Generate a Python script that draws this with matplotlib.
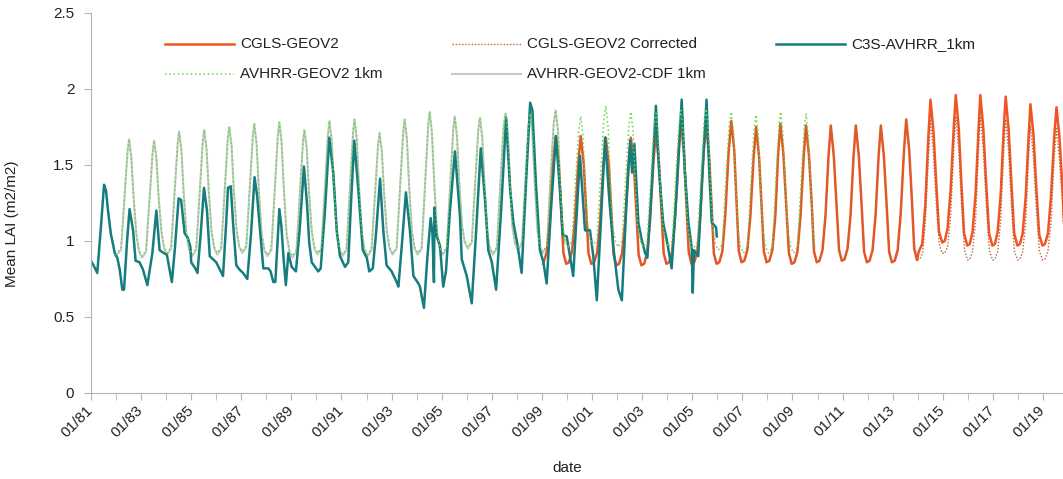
import numpy as np
import pandas as pd
import matplotlib
matplotlib.use('Agg')
import matplotlib.pyplot as plt
import matplotlib.dates as mdates
from matplotlib.ticker import FixedLocator
from matplotlib.lines import Line2D

plt.rcParams['font.family'] = ['Liberation Sans', 'DejaVu Sans']
plt.rcParams['font.size'] = 11

# ---- data (decimal year, mean LAI) ----

# C3S-AVHRR_1km
teal_t = [1981.00, 1981.10, 1981.25, 1981.40, 1981.52, 1981.60, 1981.68, 1981.79, 1981.95,
          1982.05, 1982.15, 1982.25, 1982.32, 1982.44, 1982.54, 1982.68, 1982.78, 1982.94,
          1983.08, 1983.25, 1983.45, 1983.61, 1983.74, 1983.91,
          1984.03, 1984.23, 1984.35, 1984.50, 1984.60, 1984.74, 1984.87, 1984.97,
          1985.00, 1985.16, 1985.25, 1985.38, 1985.51, 1985.63, 1985.74,
          1986.00, 1986.18, 1986.27, 1986.39, 1986.47, 1986.58, 1986.67, 1986.80, 1986.94,
          1987.07, 1987.24, 1987.39, 1987.53, 1987.63, 1987.75, 1987.88,
          1988.08, 1988.17, 1988.28, 1988.36, 1988.45, 1988.52, 1988.60, 1988.70, 1988.78, 1988.88,
          1989.01, 1989.18, 1989.34, 1989.50, 1989.62, 1989.71, 1989.81, 1989.94,
          1990.07, 1990.17, 1990.34, 1990.51, 1990.67, 1990.81, 1990.94,
          1991.14, 1991.27, 1991.38, 1991.51, 1991.67, 1991.85,
          1992.01, 1992.11, 1992.25, 1992.38, 1992.54, 1992.67, 1992.80,
          1993.00, 1993.20, 1993.27, 1993.42, 1993.57, 1993.73, 1993.87,
          1994.07, 1994.13, 1994.29, 1994.43, 1994.56, 1994.63, 1994.69, 1994.71, 1994.80, 1994.93,
          1995.06, 1995.17, 1995.33, 1995.53, 1995.73, 1995.80,
          1996.00, 1996.20, 1996.37, 1996.56, 1996.73, 1996.86,
          1997.00, 1997.17, 1997.37, 1997.57, 1997.73, 1997.86,
          1998.02, 1998.19, 1998.37, 1998.53, 1998.62, 1998.76, 1998.92,
          1999.06, 1999.19, 1999.36, 1999.56, 1999.72, 1999.83, 1999.99,
          2000.12, 2000.25, 2000.38, 2000.52, 2000.72, 2000.92,
          2001.05, 2001.19, 2001.36, 2001.52, 2001.69, 2001.85,
          2002.05, 2002.19, 2002.36, 2002.52, 2002.60, 2002.69, 2002.85, 2002.98,
          2003.12, 2003.21, 2003.38, 2003.55, 2003.68, 2003.84, 2003.98,
          2004.18, 2004.39, 2004.58, 2004.71, 2004.85, 2004.98,
          2005.02, 2005.07, 2005.24, 2005.39, 2005.57, 2005.68, 2005.78, 2005.95, 2005.98]
teal_v = [0.87, 0.84, 0.79, 1.10, 1.37, 1.33, 1.20, 1.05, 0.92,
          0.89, 0.81, 0.68, 0.68, 1.00, 1.21, 1.07, 0.87, 0.86,
          0.81, 0.71, 0.92, 1.20, 0.94, 0.92,
          0.91, 0.73, 0.95, 1.28, 1.27, 1.05, 1.02, 0.96,
          0.86, 0.82, 0.79, 1.05, 1.35, 1.20, 0.90,
          0.86, 0.80, 0.77, 1.10, 1.35, 1.36, 1.12, 0.84, 0.81,
          0.79, 0.75, 1.05, 1.42, 1.30, 1.07, 0.82,
          0.82, 0.80, 0.73, 0.73, 1.00, 1.21, 1.10, 0.86, 0.71, 0.92,
          0.83, 0.80, 1.10, 1.49, 1.25, 0.99, 0.86, 0.83,
          0.80, 0.82, 1.20, 1.68, 1.45, 1.07, 0.90,
          0.83, 0.86, 1.25, 1.66, 1.34, 0.94,
          0.89, 0.80, 0.82, 1.05, 1.41, 1.07, 0.84,
          0.80, 0.73, 0.70, 1.00, 1.32, 1.07, 0.77,
          0.72, 0.70, 0.56, 0.90, 1.15, 1.05, 0.73, 1.22, 1.03, 0.97,
          0.70, 0.80, 1.20, 1.59, 1.16, 0.88,
          0.77, 0.59, 1.05, 1.61, 1.27, 0.94,
          0.86, 0.68, 1.20, 1.81, 1.34, 1.12,
          0.98, 0.79, 1.40, 1.91, 1.86, 1.38, 0.94,
          0.86, 0.72, 1.20, 1.69, 1.34, 1.04, 1.03,
          0.90, 0.77, 1.15, 1.56, 1.07, 1.07,
          0.90, 0.61, 1.15, 1.68, 1.27, 0.96,
          0.68, 0.61, 1.20, 1.66, 1.45, 1.64, 1.12, 1.01,
          0.92, 0.89, 1.35, 1.89, 1.45, 1.12, 1.01,
          0.82, 1.35, 1.93, 1.45, 1.12, 0.96,
          0.66, 0.94, 0.90, 1.40, 1.93, 1.45, 1.12, 1.09, 1.03]

# AVHRR-GEOV2 1km
green_t = [1981.98,
           1982.20, 1982.34, 1982.46, 1982.52, 1982.61, 1982.70, 1982.81, 1982.92,
           1983.04, 1983.20, 1983.34, 1983.46, 1983.52, 1983.61, 1983.70, 1983.81, 1983.92,
           1984.04, 1984.20, 1984.34, 1984.46, 1984.52, 1984.61, 1984.70, 1984.81, 1984.92,
           1985.04, 1985.20, 1985.34, 1985.46, 1985.52, 1985.61, 1985.70, 1985.81, 1985.92,
           1986.04, 1986.20, 1986.34, 1986.46, 1986.52, 1986.61, 1986.70, 1986.81, 1986.92,
           1987.04, 1987.20, 1987.34, 1987.46, 1987.52, 1987.61, 1987.70, 1987.81, 1987.92,
           1988.04, 1988.20, 1988.34, 1988.46, 1988.52, 1988.61, 1988.70, 1988.81, 1988.92,
           1989.04, 1989.20, 1989.34, 1989.46, 1989.52, 1989.61, 1989.70, 1989.81, 1989.92,
           1990.04, 1990.20, 1990.34, 1990.46, 1990.52, 1990.61, 1990.70, 1990.81, 1990.92,
           1991.04, 1991.20, 1991.34, 1991.46, 1991.52, 1991.61, 1991.70, 1991.81, 1991.92,
           1992.04, 1992.20, 1992.34, 1992.46, 1992.52, 1992.61, 1992.70, 1992.81, 1992.92,
           1993.04, 1993.20, 1993.34, 1993.46, 1993.52, 1993.61, 1993.70, 1993.81, 1993.92,
           1994.04, 1994.20, 1994.34, 1994.46, 1994.52, 1994.61, 1994.70, 1994.81, 1994.92,
           1995.04, 1995.20, 1995.34, 1995.46, 1995.52, 1995.61, 1995.70, 1995.81, 1995.92,
           1996.04, 1996.20, 1996.34, 1996.46, 1996.53, 1996.62, 1996.71, 1996.82, 1996.92,
           1997.04, 1997.20, 1997.34, 1997.47, 1997.55, 1997.64, 1997.72, 1997.82, 1997.93,
           1998.04, 1998.20, 1998.34, 1998.46, 1998.53, 1998.62, 1998.71, 1998.82, 1998.92,
           1999.04, 1999.20, 1999.34, 1999.47, 1999.55, 1999.64, 1999.72, 1999.82, 1999.93,
           2000.04, 2000.20, 2000.34, 2000.47, 2000.55, 2000.64, 2000.72, 2000.82, 2000.93,
           2001.04, 2001.20, 2001.34, 2001.47, 2001.55, 2001.64, 2001.72, 2001.82, 2001.93,
           2002.04, 2002.20, 2002.34, 2002.47, 2002.55, 2002.64, 2002.72, 2002.82, 2002.93,
           2003.04, 2003.20, 2003.34, 2003.47, 2003.55, 2003.64, 2003.72, 2003.82, 2003.93,
           2004.04, 2004.20, 2004.34, 2004.47, 2004.55, 2004.64, 2004.72, 2004.82, 2004.93,
           2005.04, 2005.20, 2005.34, 2005.47, 2005.55, 2005.64, 2005.72, 2005.82, 2005.93,
           2006.04, 2006.20, 2006.34, 2006.47, 2006.56, 2006.65, 2006.73, 2006.83, 2006.93,
           2007.04, 2007.20, 2007.34, 2007.47, 2007.55, 2007.64, 2007.72, 2007.82, 2007.93,
           2008.04, 2008.20, 2008.34, 2008.46, 2008.53, 2008.62, 2008.71, 2008.82, 2008.93,
           2009.04, 2009.20, 2009.34, 2009.47, 2009.54, 2009.63, 2009.72, 2009.82, 2009.90]
green_v = [0.91,
           0.95, 1.29, 1.59, 1.67, 1.55, 1.29, 1.05, 0.94,
           0.90, 0.94, 1.28, 1.58, 1.66, 1.55, 1.29, 1.07, 0.96,
           0.92, 0.96, 1.32, 1.64, 1.72, 1.60, 1.32, 1.06, 0.95,
           0.91, 0.95, 1.32, 1.65, 1.73, 1.61, 1.33, 1.07, 0.96,
           0.92, 0.96, 1.34, 1.67, 1.75, 1.63, 1.34, 1.08, 0.97,
           0.93, 0.97, 1.35, 1.69, 1.77, 1.64, 1.34, 1.06, 0.95,
           0.91, 0.95, 1.35, 1.69, 1.78, 1.65, 1.34, 1.05, 0.94,
           0.90, 0.94, 1.32, 1.65, 1.73, 1.61, 1.33, 1.07, 0.96,
           0.92, 0.96, 1.36, 1.70, 1.79, 1.66, 1.35, 1.06, 0.95,
           0.91, 0.95, 1.36, 1.71, 1.80, 1.67, 1.36, 1.06, 0.95,
           0.91, 0.95, 1.31, 1.63, 1.71, 1.59, 1.32, 1.07, 0.96,
           0.92, 0.96, 1.36, 1.71, 1.80, 1.67, 1.36, 1.07, 0.96,
           0.92, 0.96, 1.39, 1.76, 1.85, 1.71, 1.39, 1.07, 0.96,
           0.92, 0.96, 1.37, 1.73, 1.82, 1.69, 1.39, 1.11, 1.00,
           0.96, 1.00, 1.39, 1.73, 1.81, 1.68, 1.37, 1.07, 0.96,
           0.92, 0.96, 1.38, 1.75, 1.84, 1.71, 1.40, 1.10, 0.99,
           0.95, 0.99, 1.40, 1.75, 1.84, 1.71, 1.39, 1.08, 0.97,
           0.93, 0.97, 1.40, 1.77, 1.86, 1.73, 1.41, 1.11, 1.00,
           0.96, 1.00, 1.39, 1.73, 1.82, 1.69, 1.40, 1.12, 1.01,
           0.97, 1.01, 1.43, 1.80, 1.89, 1.75, 1.43, 1.11, 1.00,
           0.96, 1.00, 1.41, 1.76, 1.85, 1.72, 1.41, 1.11, 1.00,
           0.96, 1.00, 1.40, 1.75, 1.84, 1.71, 1.40, 1.11, 1.00,
           0.96, 1.00, 1.41, 1.77, 1.86, 1.72, 1.41, 1.10, 0.99,
           0.95, 0.99, 1.41, 1.78, 1.87, 1.73, 1.41, 1.09, 0.98,
           0.94, 0.98, 1.40, 1.76, 1.85, 1.71, 1.39, 1.07, 0.96,
           0.92, 0.96, 1.38, 1.74, 1.83, 1.69, 1.38, 1.07, 0.96,
           0.92, 0.96, 1.39, 1.76, 1.85, 1.71, 1.39, 1.07, 0.96,
           0.92, 0.96, 1.38, 1.75, 1.84, 1.70, 1.38, 1.07, 0.945]

# AVHRR-GEOV2-CDF 1km (same dates as the green series, ends late 1999)
gray_t = green_t[:green_t.index(1999.82) + 1] + [1999.90]
gray_v = [0.90,
          0.94, 1.29, 1.59, 1.67, 1.55, 1.29, 1.04, 0.93,
          0.89, 0.93, 1.28, 1.58, 1.66, 1.55, 1.29, 1.06, 0.95,
          0.91, 0.95, 1.32, 1.64, 1.72, 1.60, 1.32, 1.05, 0.94,
          0.90, 0.94, 1.32, 1.65, 1.73, 1.61, 1.33, 1.06, 0.95,
          0.91, 0.95, 1.34, 1.67, 1.75, 1.63, 1.34, 1.07, 0.96,
          0.92, 0.96, 1.35, 1.69, 1.77, 1.64, 1.34, 1.05, 0.94,
          0.90, 0.94, 1.35, 1.69, 1.78, 1.65, 1.34, 1.04, 0.93,
          0.89, 0.93, 1.32, 1.65, 1.73, 1.61, 1.33, 1.06, 0.95,
          0.91, 0.95, 1.36, 1.70, 1.79, 1.66, 1.35, 1.05, 0.94,
          0.90, 0.94, 1.36, 1.71, 1.80, 1.67, 1.36, 1.05, 0.94,
          0.90, 0.94, 1.31, 1.63, 1.71, 1.59, 1.32, 1.06, 0.95,
          0.91, 0.95, 1.36, 1.71, 1.80, 1.67, 1.36, 1.06, 0.95,
          0.91, 0.95, 1.39, 1.76, 1.85, 1.71, 1.39, 1.06, 0.95,
          0.91, 0.95, 1.37, 1.73, 1.82, 1.69, 1.39, 1.10, 0.99,
          0.95, 0.99, 1.39, 1.73, 1.81, 1.68, 1.37, 1.06, 0.95,
          0.91, 0.95, 1.38, 1.75, 1.84, 1.71, 1.40, 1.09, 0.98,
          0.94, 0.98, 1.40, 1.75, 1.84, 1.71, 1.39, 1.07, 0.96,
          0.92, 0.96, 1.40, 1.77, 1.86, 1.73, 1.41, 1.10,
          0.99]

# CGLS-GEOV2
cgls_t = [1999.05, 1999.20, 1999.32, 1999.45, 1999.55, 1999.67, 1999.77, 1999.86, 1999.97,
          2000.08, 2000.20, 2000.32, 2000.45, 2000.55, 2000.67, 2000.77, 2000.86, 2000.97,
          2001.08, 2001.20, 2001.32, 2001.45, 2001.55, 2001.67, 2001.77, 2001.86, 2001.97,
          2002.08, 2002.20, 2002.32, 2002.45, 2002.55, 2002.67, 2002.77, 2002.86, 2002.97,
          2003.08, 2003.20, 2003.32, 2003.45, 2003.55, 2003.67, 2003.77, 2003.86, 2003.97,
          2004.08, 2004.20, 2004.32, 2004.45, 2004.55, 2004.67, 2004.77, 2004.86, 2004.97,
          2005.08, 2005.20, 2005.32, 2005.45, 2005.55, 2005.67, 2005.77, 2005.86, 2005.97,
          2006.08, 2006.20, 2006.32, 2006.45, 2006.56, 2006.68, 2006.77, 2006.86, 2006.97,
          2007.08, 2007.20, 2007.32, 2007.45, 2007.55, 2007.67, 2007.77, 2007.86, 2007.97,
          2008.08, 2008.20, 2008.32, 2008.43, 2008.52, 2008.64, 2008.75, 2008.86, 2008.97,
          2009.08, 2009.20, 2009.32, 2009.45, 2009.54, 2009.66, 2009.77, 2009.86, 2009.97,
          2010.08, 2010.20, 2010.32, 2010.44, 2010.53, 2010.65, 2010.76, 2010.86, 2010.97,
          2011.08, 2011.20, 2011.32, 2011.44, 2011.53, 2011.65, 2011.76, 2011.86, 2011.97,
          2012.08, 2012.20, 2012.32, 2012.44, 2012.53, 2012.65, 2012.76, 2012.86, 2012.97,
          2013.08, 2013.20, 2013.32, 2013.45, 2013.54, 2013.66, 2013.77, 2013.86, 2013.97,
          2014.04, 2014.18, 2014.30, 2014.43, 2014.51, 2014.63, 2014.74, 2014.85, 2014.98,
          2015.08, 2015.19, 2015.31, 2015.44, 2015.52, 2015.64, 2015.74, 2015.85, 2015.98,
          2016.08, 2016.19, 2016.31, 2016.43, 2016.50, 2016.62, 2016.73, 2016.85, 2016.98,
          2017.08, 2017.19, 2017.31, 2017.43, 2017.51, 2017.63, 2017.74, 2017.85, 2017.98,
          2018.08, 2018.19, 2018.31, 2018.43, 2018.50, 2018.62, 2018.73, 2018.85, 2018.98,
          2019.08, 2019.20, 2019.32, 2019.45, 2019.54, 2019.66, 2019.78, 2019.86]
cgls_v = [0.85, 0.93, 1.14, 1.51, 1.69, 1.51, 1.20, 0.92, 0.85,
          0.86, 0.93, 1.14, 1.51, 1.69, 1.51, 1.20, 0.92, 0.85,
          0.86, 0.92, 1.13, 1.50, 1.68, 1.50, 1.19, 0.91, 0.84,
          0.85, 0.92, 1.13, 1.50, 1.68, 1.50, 1.19, 0.91, 0.84,
          0.85, 0.92, 1.14, 1.52, 1.71, 1.52, 1.21, 0.92, 0.85,
          0.86, 0.93, 1.17, 1.58, 1.79, 1.58, 1.24, 0.93, 0.85,
          0.86, 0.93, 1.16, 1.57, 1.77, 1.57, 1.24, 0.92, 0.85,
          0.86, 0.93, 1.17, 1.58, 1.79, 1.59, 1.25, 0.93, 0.86,
          0.87, 0.94, 1.16, 1.55, 1.75, 1.55, 1.23, 0.93, 0.86,
          0.87, 0.94, 1.17, 1.57, 1.77, 1.57, 1.24, 0.92, 0.85,
          0.86, 0.93, 1.16, 1.56, 1.76, 1.56, 1.24, 0.93, 0.86,
          0.87, 0.94, 1.17, 1.56, 1.76, 1.56, 1.24, 0.94, 0.87,
          0.88, 0.95, 1.17, 1.56, 1.76, 1.56, 1.24, 0.93, 0.86,
          0.87, 0.94, 1.17, 1.56, 1.76, 1.56, 1.24, 0.93, 0.86,
          0.87, 0.94, 1.18, 1.59, 1.80, 1.60, 1.26, 0.95, 0.875,
          0.93, 0.98, 1.23, 1.70, 1.93, 1.72, 1.38, 1.06, 0.99,
          1.00, 1.08, 1.32, 1.75, 1.96, 1.74, 1.39, 1.05, 0.97,
          0.98, 1.06, 1.31, 1.74, 1.96, 1.74, 1.39, 1.05, 0.97,
          0.98, 1.06, 1.30, 1.73, 1.95, 1.73, 1.38, 1.05, 0.97,
          0.98, 1.05, 1.29, 1.70, 1.90, 1.70, 1.36, 1.04, 0.97,
          0.98, 1.05, 1.29, 1.69, 1.88, 1.68, 1.34, 1.05]

# CGLS-GEOV2 Corrected (identical to CGLS-GEOV2 before 2014)
corr_tail_t = [2014.08, 2014.20, 2014.31, 2014.43, 2014.51, 2014.63, 2014.74, 2014.86, 2014.97,
               2015.08, 2015.19, 2015.31, 2015.44, 2015.52, 2015.64, 2015.75, 2015.87, 2015.99,
               2016.08, 2016.19, 2016.31, 2016.43, 2016.50, 2016.62, 2016.74, 2016.86, 2016.99,
               2017.08, 2017.19, 2017.31, 2017.43, 2017.51, 2017.63, 2017.74, 2017.86, 2017.99,
               2018.08, 2018.19, 2018.31, 2018.43, 2018.50, 2018.62, 2018.73, 2018.86, 2018.99,
               2019.08, 2019.20, 2019.32, 2019.45, 2019.54, 2019.66, 2019.78, 2019.86]
corr_tail_v = [0.88, 0.92, 1.14, 1.56, 1.79, 1.58, 1.25, 0.98, 0.92,
               0.92, 0.96, 1.15, 1.60, 1.82, 1.60, 1.24, 0.94, 0.875,
               0.88, 0.93, 1.13, 1.60, 1.82, 1.60, 1.24, 0.94, 0.875,
               0.88, 0.93, 1.13, 1.59, 1.80, 1.58, 1.23, 0.93, 0.875,
               0.88, 0.93, 1.12, 1.56, 1.76, 1.55, 1.22, 0.93, 0.875,
               0.88, 0.93, 1.12, 1.55, 1.74, 1.53, 1.26, 0.98]
n_same = cgls_t.index(2013.97) + 1
corr_t = cgls_t[:n_same] + corr_tail_t
corr_v = cgls_v[:n_same] + corr_tail_v

ORANGE = '#f05523'
TEAL = '#167c7d'
GREEN = '#62d846'
GRAY = '#c8c8c8'
BROWN = '#b8643a'
GREEN_LS = (0, (1, 1.8))
BROWN_LS = (0, (1, 1.3))


def to_dates(years):
    yrs = np.asarray(years, dtype=float)
    whole = np.floor(yrs).astype(int)
    base = pd.to_datetime(whole.astype(str), format='%Y')
    return base + pd.to_timedelta((yrs - whole) * 365.25, unit='D')


W, H = 1063, 479
fig = plt.figure(figsize=(W / 100, H / 100), dpi=100)
ax = fig.add_axes([91 / W, 1 - 393 / H, (W - 91) / W, 380 / H])

ax.plot(to_dates(gray_t), gray_v, color=GRAY, lw=1.5)
ax.plot(to_dates(cgls_t), cgls_v, color=ORANGE, lw=1.8)
ax.plot(to_dates(corr_t), corr_v, color=BROWN, lw=1.0, ls=BROWN_LS)
ax.plot(to_dates(teal_t), teal_v, color=TEAL, lw=1.8)
ax.plot(to_dates(green_t), green_v, color=GREEN, lw=1.1, ls=GREEN_LS)

ax.set_xlim(to_dates([1981.0])[0], to_dates([2019.80])[0])
ax.set_ylim(0, 2.5)
ax.set_yticks([0, 0.5, 1, 1.5, 2, 2.5])
ax.set_yticklabels(['0', '0.5', '1', '1.5', '2', '2.5'])

major = [pd.Timestamp(f'{y}-01-01') for y in range(1981, 2020, 2)]
minor = [pd.Timestamp(f'{y}-01-01') for y in range(1982, 2020, 2)]
ax.xaxis.set_major_locator(FixedLocator(mdates.date2num(major)))
ax.xaxis.set_minor_locator(FixedLocator(mdates.date2num(minor)))
ax.xaxis.set_major_formatter(mdates.DateFormatter('%m/%y'))

for s in ['top', 'right']:
    ax.spines[s].set_visible(False)
for s in ['left', 'bottom']:
    ax.spines[s].set_color('#b4b4b4')
ax.tick_params(axis='both', which='both', color='#b4b4b4', length=5, labelcolor='#222222')
ax.tick_params(axis='y', pad=7)
ax.tick_params(axis='x', pad=6)
for lab in ax.get_xticklabels():
    lab.set_rotation(45)
    lab.set_ha('right')
    lab.set_va('center')
    lab.set_rotation_mode('anchor')

ax.set_ylabel('Mean LAI (m2/m2)', color='#222222')
ax.yaxis.set_label_coords((19 - 91) / (W - 91), 0.445)
ax.set_xlabel('date', color='#222222')
ax.xaxis.set_label_coords((567 - 91) / (W - 91), (393 - 461) / 380)

# legend drawn by hand to keep the uneven column spacing
entries = [
    (165, 44, 'CGLS-GEOV2', ORANGE, '-', 1.8),
    (452, 44, 'CGLS-GEOV2 Corrected', BROWN, BROWN_LS, 1.0),
    (776, 44, 'C3S-AVHRR_1km', TEAL, '-', 1.8),
    (165, 74, 'AVHRR-GEOV2 1km', GREEN, GREEN_LS, 1.1),
    (452, 74, 'AVHRR-GEOV2-CDF 1km', GRAY, '-', 1.5),
]
for x0, y0, label, col, ls, lw in entries:
    fig.add_artist(Line2D([x0 / W, (x0 + 69) / W], [1 - y0 / H, 1 - y0 / H],
                          color=col, ls=ls, lw=lw, transform=fig.transFigure))
    fig.text((x0 + 75) / W, 1 - y0 / H, label, va='center', ha='left',
             color='#222222', fontsize=11)

fig.savefig('out.png', dpi=100)
